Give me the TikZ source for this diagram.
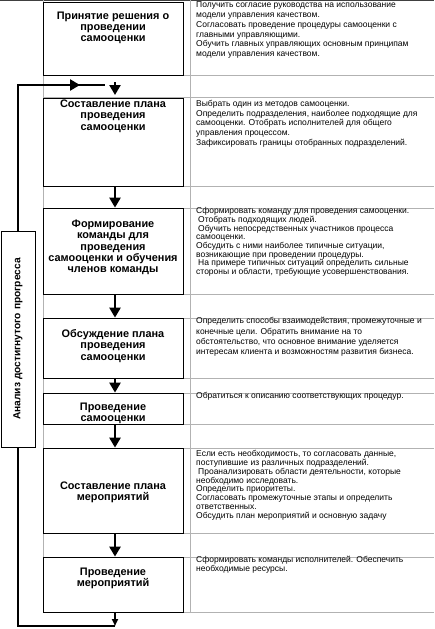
\documentclass[tikz,border=0pt]{standalone}
\usepackage{fontspec}
\setmainfont{Liberation Sans}
\usetikzlibrary{arrows.meta}

\tikzset{
  stagebox/.style={draw, line width=0.8pt, fill=white, minimum width=140pt, inner sep=0pt},
  stagetitle/.style={align=center, inner sep=0pt, font=\bfseries\fontsize{10.9}{11.3}\selectfont},
  note/.style={align=left, anchor=north west, inner sep=0pt, font=\fontsize{8.5}{#1}\selectfont},
  grid line/.style={black!30, line width=0.6pt},
  loop line/.style={line width=2.6pt},
  flow/.style={line width=2.6pt, -{Triangle[width=11pt,length=10pt]}},
}

\begin{document}
\begin{tikzpicture}[x=1pt, y=-1pt]
  %%%%% START %%%%%
  \useasboundingbox (0,0) rectangle (434,629);

  % table grid
  \draw[line width=1.2pt, black!75] (0,0.6) -- (434,0.6);
  \foreach \y in {75,97,186,208,294,318,378,393,424,448,533,557,612}
    \draw[grid line] (43,\y) -- (434,\y);
  \draw[grid line] (43,0) -- (43,612);
  \draw[grid line] (190,0) -- (190,612);

  % stages
  \node[stagebox, minimum height=73pt] (stage1) at (113,38.5) {};
  \node[stagebox, minimum height=88pt] (stage2) at (113,142) {};
  \node[stagebox, minimum height=86pt] (stage3) at (113,251) {};
  \node[stagebox, minimum height=60pt] (stage4) at (113,348) {};
  \node[stagebox, minimum height=31pt] (stage5) at (113,408.5) {};
  \node[stagebox, minimum height=85pt] (stage6) at (113,490.5) {};
  \node[stagebox, minimum height=55pt] (stage7) at (113,584.5) {};

  \node[stagetitle] (title1) at (113,28) {Принятие решения о\\проведении\\самооценки};
  \node[stagetitle] (title2) at (113,116) {Составление плана\\проведения\\самооценки};
  \node[stagetitle] (title3) at (113,247.5) {Формирование\\команды для\\проведения\\самооценки и обучения\\членов команды};
  \node[stagetitle] (title4) at (113,346) {Обсуждение плана\\проведения\\самооценки};
  \node[stagetitle] (title5) at (113,413.5) {Проведение\\самооценки};
  \node[stagetitle] (title6) at (113,492) {Составление плана\\мероприятий};
  \node[stagetitle] (title7) at (113,578.5) {Проведение\\мероприятий};

  % notes
  \node[note=9.9] (note1) at (196,1.3) {Получить согласие руководства на использование\\
    модели управления качеством.\\
    Согласовать проведение процедуры самооценки с\\
    главными управляющими.\\
    Обучить главных управляющих основным принципам\\
    модели управления качеством.};
  \node[note=9.6] (note2) at (196,100.3) {Выбрать один из методов самооценки.\\
    Определить подразделения, наиболее подходящие для\\
    самооценки. Отобрать исполнителей для общего\\
    управления процессом.\\
    Зафиксировать границы отобранных подразделений.};
  \node[note=8.7] (note3) at (196,207.3) {Сформировать команду для проведения самооценки.\\
    \hspace{2pt}Отобрать подходящих людей.\\
    \hspace{2pt}Обучить непосредственных участников процесса\\
    самооценки.\\
    Обсудить с ними наиболее типичные ситуации,\\
    возникающие при проведении процедуры.\\
    \hspace{2pt}На примере типичных ситуаций определить сильные\\
    стороны и области, требующие усовершенствования.};
  \node[note=10.3] (note4) at (196,317.3) {Определить способы взаимодействия, промежуточные и\\
    конечные цели. Обратить внимание на то\\
    обстоятельство, что основное внимание уделяется\\
    интересам клиента и возможностям развития бизнеса.};
  \node[note=9.6] (note5) at (196,392.3) {Обратиться к описанию соответствующих процедур.};
  \node[note=8.8] (note6) at (196,450.3) {Если есть необходимость, то согласовать данные,\\
    поступившие из различных подразделений.\\
    \hspace{2pt}Проанализировать области деятельности, которые\\
    необходимо исследовать.\\
    Определить приоритеты.\\
    Согласовать промежуточные этапы и определить\\
    ответственных.\\
    Обсудить план мероприятий и основную задачу};
  \node[note=8.2] (note7) at (196,556.3) {Сформировать команды исполнителей. Обеспечить\\
    необходимые ресурсы.};

  % feedback
  \node[draw, line width=0.8pt, fill=white, rotate=90, minimum width=216pt, minimum height=34pt,
    font=\bfseries\fontsize{10.2}{12}\selectfont] (review) at (18,339) {Анализ достигнутого прогресса};

  \coordinate (entry) at (115,82);
  \coordinate (entrytip) at (115,95);
  \coordinate (exit) at (115,626);
  \coordinate (loopbottom) at (18,626);
  \coordinate (looptop) at (18,85);
  \coordinate (loopmid) at (80,85);
  \coordinate (loopend) at (105,85);

  \draw[flow] (entry) -- (entrytip);
  \draw[flow] ([xshift=2pt]stage2.south) -- ([xshift=2pt]stage3.north);
  \draw[flow] ([xshift=2pt]stage3.south) -- ([xshift=2pt]stage4.north);
  \draw[flow] ([xshift=2pt]stage4.south) -- ([xshift=2pt]stage5.north);
  \draw[flow] ([xshift=2pt]stage5.south) -- ([xshift=2pt]stage6.north);
  \draw[flow] ([xshift=2pt]stage6.south) -- ([xshift=2pt]stage7.north);
  \draw[line width=2.6pt, -{Triangle[width=6pt,length=7pt]}] ([xshift=2pt]stage7.south) -- (exit);

  \draw[loop line] (exit) -- (loopbottom) -- (review.west);
  \draw[loop line] (review.east) -- (looptop) -- (loopend);
  \draw[flow] (looptop) -- (loopmid);
  %%%%% END %%%%%
\end{tikzpicture}
\end{document}
